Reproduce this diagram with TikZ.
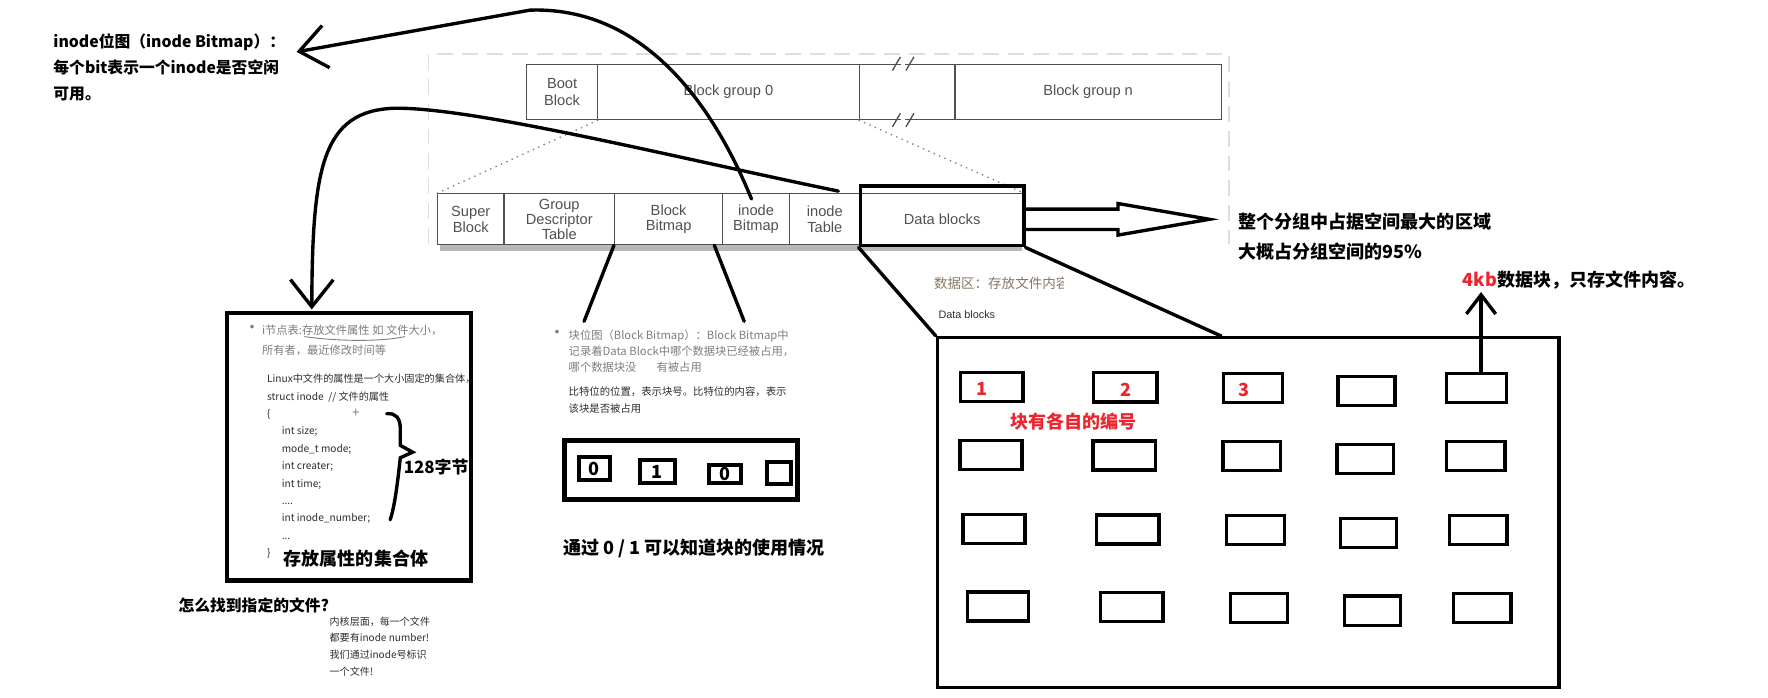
\documentclass[tikz,border=0pt]{standalone}
\usepackage{fontspec}
\setmainfont{Noto Sans CJK SC}
\newfontfamily\figfont{Liberation Sans}
\usetikzlibrary{arrows.meta, calc}
\definecolor{figK}{RGB}{80,80,80}
\definecolor{figN}{RGB}{125,125,125}
\definecolor{figD}{RGB}{45,45,45}
\definecolor{figF}{RGB}{222,222,222}
\definecolor{figR}{RGB}{236,38,48}
\definecolor{figT}{RGB}{135,118,100}
\tikzset{
  fcell/.style={draw=figK, line width=0.5pt, inner sep=0pt, align=center, text=figK,
    font=\figfont\fontsize{6.5}{6.8}\selectfont, minimum height=22.5pt},
  hand/.style={line width=1.5pt, line cap=round},
  barb/.style={-{Straight Barb[length=12pt, width=19pt]}},
  sqbox/.style={draw, line width=1.5pt, inner sep=0pt, minimum height=12.9pt},
  bitbox/.style={draw, line width=1.75pt, inner sep=0pt, font=\bfseries\fontsize{8}{8}\selectfont},
  ntext/.style={inner sep=0pt, anchor=west, align=left, text=figN, font=\fontsize{5}{8.8}\selectfont},
  btext/.style={inner sep=0pt, anchor=west, align=left, font=\bfseries\fontsize{8}{13.3}\selectfont}
}
\begin{document}
\begin{tikzpicture}[x=0.5pt, y=-0.5pt]
\useasboundingbox (0,0) rectangle (1568,619);
% faint dashed frame of the scanned ext2 figure
\draw[figF, line width=0.7pt, dash pattern=on 7pt off 4pt] (380,216) -- (380,48) -- (1090,48) -- (1090,216);
% top row: boot block and the block groups
\node[fcell, minimum width=31.5pt, minimum height=24.5pt, font=\figfont\fontsize{6.5}{7.5}\selectfont] (boot) at (498.5,81.5) {Boot\\Block};
\node[fcell, minimum width=116pt, minimum height=24.5pt] (grp0) at (646,81.5) {Block group 0};
\node[fcell, minimum width=42.5pt, minimum height=24.5pt] (gapc) at (804.5,81.5) {};
\node[fcell, minimum width=118pt, minimum height=24.5pt] (grpn) at (965,81.5) {Block group n};
% break marks on the gap cell
\foreach \e in {north, south} {
  \draw[white, line width=1.5pt] ($(gapc.\e)+(-5.5,0)$) -- ($(gapc.\e)+(-1.5,0)$);
  \draw[figK, line width=0.6pt] ($(gapc.\e)+(-13,6)$) -- ($(gapc.\e)+(-6,-6)$);
  \draw[figK, line width=0.6pt] ($(gapc.\e)+(-1,6)$) -- ($(gapc.\e)+(6,-6)$);
}
% bottom row: the parts of one block group
\node[fcell, minimum width=29.5pt] (sb) at (417.5,194.5) {Super\\Block};
\node[fcell, minimum width=49pt] (gdt) at (496,194.5) {Group\\Descriptor\\Table};
\node[fcell, minimum width=48pt] (bbm) at (593,194.5) {Block\\Bitmap};
\node[fcell, minimum width=29.5pt] (ibm) at (670.5,194.5) {inode\\Bitmap};
\node[fcell, minimum width=31.5pt] (itb) at (731.5,194.5) {inode\\Table};
\node[fcell, minimum width=72.5pt] (dbk) at (835.5,194.5) {Data blocks};
\fill[black!28] ($(sb.south west)+(3,0)$) rectangle ($(dbk.south east)+(-2,5)$);
\draw[figN, dotted, line width=0.6pt] (boot.south east) -- (sb.north west);
\draw[figN, dotted, line width=0.6pt] (gapc.south west) -- (dbk.north east);
\node[draw, line width=1.5pt, inner sep=0pt, minimum width=72.5pt, minimum height=26.5pt] (dbox) at (835.5,191.5) {};
% wide hollow arrow out of the data blocks
\coordinate (dtip) at ($(dbox.east)+(163,3)$);
\draw[line width=1.5pt, line join=miter] ($(dbox.east)+(0,-6)$) -- ++(82,0) -- ++(0,-5) -- (dtip) -- ($(dbox.east)+(82,17)$) -- ++(0,-5) -- ($(dbox.east)+(0,12)$);
\node[btext] (bigtxt) at (1098,210) {整个分组中占据空间最大的区域\\大概占分组空间的95\%};
% inode bitmap note and its arrow
\node[btext, font=\bfseries\fontsize{7}{11.5}\selectfont] (ibtxt) at (47,60) {inode位图（inode Bitmap）：\\每个bit表示一个inode是否空闲\\可用。};
\coordinate (ibtip) at (263,46);
\draw[hand, barb] ($(ibm.north)+(-4,5)$) .. controls (625,75) and (560,6) .. (470,9) -- (ibtip);
% inode table box and its arrow
\node[draw, line width=2pt, inner sep=0pt, minimum width=108pt, minimum height=118.75pt] (itbox) at (309.5,396.2) {};
\draw[hand, barb] ($(itb.north)+(12,-2)$) .. controls (600,140) and (420,95) .. (350,96) .. controls (285,98) and (277,150) .. ($(itbox.north west)+(77,-1)$);
\node[text=figN, inner sep=0pt, font=\fontsize{7.5}{7.5}\selectfont] (bul1) at (223.5,292.5) {•};
\node[ntext] (itnote) at (232,301.5) {i节点表:存放文件属性 如 文件大小，\\所有者，最近修改时间等};
\draw[figN, line width=0.4pt] (270,298.5) .. controls (300,303) and (340,303) .. (359,298.5);
\node[inner sep=0pt, anchor=west, align=left, text=figD, font=\fontsize{4.5}{7.72}\selectfont] (code) at (236.5,413.5)
  {Linux中文件的属性是一个大小固定的集合体，\\struct inode\ \ // 文件的属性\\\{\\
   \hspace*{6.5pt}int size;\\\hspace*{6.5pt}mode\_t mode;\\\hspace*{6.5pt}int creater;\\\hspace*{6.5pt}int time;\\
   \hspace*{6.5pt}....\\\hspace*{6.5pt}int inode\_number;\\\hspace*{6.5pt}...\\\}};
\node[text=figN, inner sep=0pt, font=\fontsize{6}{6}\selectfont] (plus) at (315.7,366.6) {+};
\draw[hand] (343,367) .. controls (351,366) and (355,371) .. (355,380) -- (355,395) -- (366,401) -- (355,406) .. controls (353,425) and (350,450) .. (346,461);
\node[btext, font=\bfseries\fontsize{7.5}{7.5}\selectfont] (size) at (357.7,413.9) {128字节};
\node[btext] (settxt) at (251.3,495.2) {存放属性的集合体};
\node[btext, font=\bfseries\fontsize{7}{7}\selectfont] (findq) at (158,536.6) {怎么找到指定的文件?};
\node[ntext, text=figD, font=\fontsize{4.45}{7.4}\selectfont] (finda) at (292,573.3) {内核层面，每一个文件\\都要有inode number!\\我们通过inode号标识\\一个文件!};
% pointers from the block bitmap
\coordinate (bbl) at (518,285);
\coordinate (bbr) at (660,285);
\draw[hand] (bbm.south west) -- (bbl);
\draw[hand] ($(bbm.south east)+(-8,0)$) -- (bbr);
\node[text=figN, inner sep=0pt, font=\fontsize{7.5}{7.5}\selectfont] (bul2) at (494,297) {•};
\node[ntext, font=\fontsize{5}{7.25}\selectfont] (bbnote) at (504,311.5) {块位图（Block Bitmap）：Block Bitmap中\\记录着Data Block中哪个数据块已经被占用，\\哪个数据块没\hspace{9pt}有被占用};
\node[ntext, text=figD, font=\fontsize{4.6}{7.35}\selectfont] (bbnote2) at (504,354.6) {比特位的位置，表示块号。比特位的内容，表示\\该块是否被占用};
% the bitmap: one bit per data block
\node[draw, line width=2.2pt, inner sep=0pt, minimum width=103.5pt, minimum height=25.9pt] (bmap) at (603.75,416.8) {};
\node[bitbox, minimum width=13.75pt, minimum height=9.8pt] (b1) at (526.9,415.5) {0};
\node[bitbox, minimum width=15.25pt, minimum height=10.1pt] (b2) at (583,418.2) {1};
\node[bitbox, minimum width=14.5pt, minimum height=7.85pt] (b3) at (643,420.5) {0};
\node[bitbox, minimum width=10.8pt, minimum height=9.8pt] (b4) at (691,419.5) {};
\node[btext] (bmtxt) at (499,486) {通过 0 / 1 可以知道块的使用情况};
% data block area
\node[draw, line width=1.5pt, inner sep=0pt, minimum width=275.5pt, minimum height=155pt] (dbig) at (1107,454.5) {};
\draw[hand] (dbox.south west) -- (dbig.north west);
\draw[hand] (dbox.south east) -- ($(dbig.north west)+(253,0)$);
\begin{scope}
\clip (820,240) rectangle (943,262);
\node[ntext, text=figT, font=\fontsize{6}{6}\selectfont] (dtnote) at (828,251) {数据区：存放文件内容};
\end{scope}
\node[ntext, text=figD, font=\figfont\fontsize{4.8}{4.8}\selectfont] (dtlab) at (832,279) {Data blocks};
% data block grid, four rows of five
\foreach \n/\x/\y/\w in {11/879.5/343.2/27.85, 12/998/343.5/28, 13/1111.2/344/26, 14/1211.8/346.7/25.3, 15/1309.5/344/26.4,
  21/879/403.7/27.5, 22/997.1/404/27.8, 23/1110.1/404.3/25.5, 24/1210.9/407.1/25, 25/1308.7/404.3/26,
  31/881.7/469.2/27.5, 32/1000/469.7/27.8, 33/1113.4/470.1/25.65, 34/1213.8/472.7/24.75, 35/1311/470.1/25.65,
  41/885.1/538/27.3, 42/1003.7/538.4/27.85, 43/1116.6/539/25.3, 44/1217.2/541.6/24.6, 45/1314.5/539/25.65}
  \node[sqbox, minimum width=\w pt] (r\n) at (\x,\y) {};
\node[text=figR, font=\bfseries\fontsize{8}{8}\selectfont, inner sep=0pt] (n1) at ($(r11)+(-9,2)$) {1};
\node[text=figR, font=\bfseries\fontsize{8}{8}\selectfont, inner sep=0pt] (n2) at ($(r12)+(1,2)$) {2};
\node[text=figR, font=\bfseries\fontsize{8}{8}\selectfont, inner sep=0pt] (n3) at ($(r13)+(-8,2)$) {3};
\node[btext, text=figR] (rnum) at (896,374) {块有各自的编号};
% a single 4kb block
\coordinate (kbtip) at (1313.5,259);
\draw[hand, -{Straight Barb[length=8.5pt, width=13pt]}] ($(r15.north)+(4,0)$) -- (kbtip);
\node[btext] (kbtxt) at (1297,248.3) {\textcolor{figR}{4kb}数据块，只存文件内容。};
\end{tikzpicture}
\end{document}
